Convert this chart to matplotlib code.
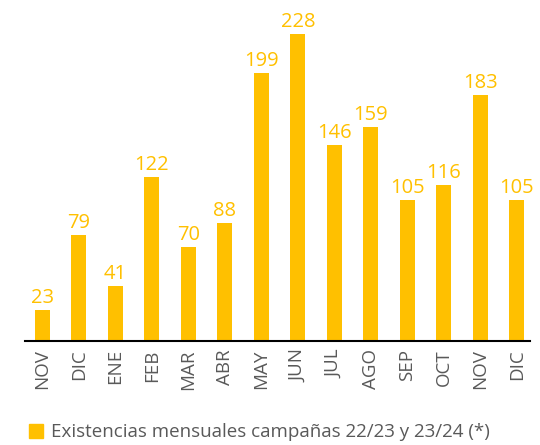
import matplotlib.pyplot as plt
from matplotlib.patches import Patch

# Monthly stocks, campaigns 22/23 and 23/24
months = ["NOV", "DIC", "ENE", "FEB", "MAR", "ABR", "MAY", "JUN",
          "JUL", "AGO", "SEP", "OCT", "NOV", "DIC"]
stocks = [23, 79, 41, 122, 70, 88, 199, 228, 146, 159, 105, 116, 183, 105]

gold = "#FFC000"
grey = "#595959"

plt.rcParams["font.family"] = ["Open Sans", "DejaVu Sans"]

fig = plt.figure(figsize=(5.4, 4.45), dpi=100)
ax = fig.add_axes([0.046, 0.234, 0.935, 0.755])

x = range(len(months))
ax.bar(x, stocks, width=0.41, color=gold)
for i, v in zip(x, stocks):
    ax.text(i, v + 1.5, str(v), ha="center", va="bottom", color=gold, fontsize=14.5)

ax.set_xlim(-0.48, 13.35)
ax.set_ylim(0, 250)
ax.set_xticks(list(x))
ax.set_xticklabels(months, rotation=90, color=grey, fontsize=13.5)
ax.tick_params(axis="x", length=0, pad=6)
ax.set_yticks([])
for s in ["top", "right", "left"]:
    ax.spines[s].set_visible(False)
ax.spines["bottom"].set_linewidth(1.5)
ax.spines["bottom"].set_color("black")

fig.legend(handles=[Patch(color=gold)],
           labels=["Existencias mensuales campañas 22/23 y 23/24 (*)"],
           loc="lower left", bbox_to_anchor=(0.022, -0.03), frameon=False,
           fontsize=13.5, handlelength=0.75, handleheight=0.75,
           handletextpad=0.45, labelcolor=grey)

fig.savefig("out.png")
